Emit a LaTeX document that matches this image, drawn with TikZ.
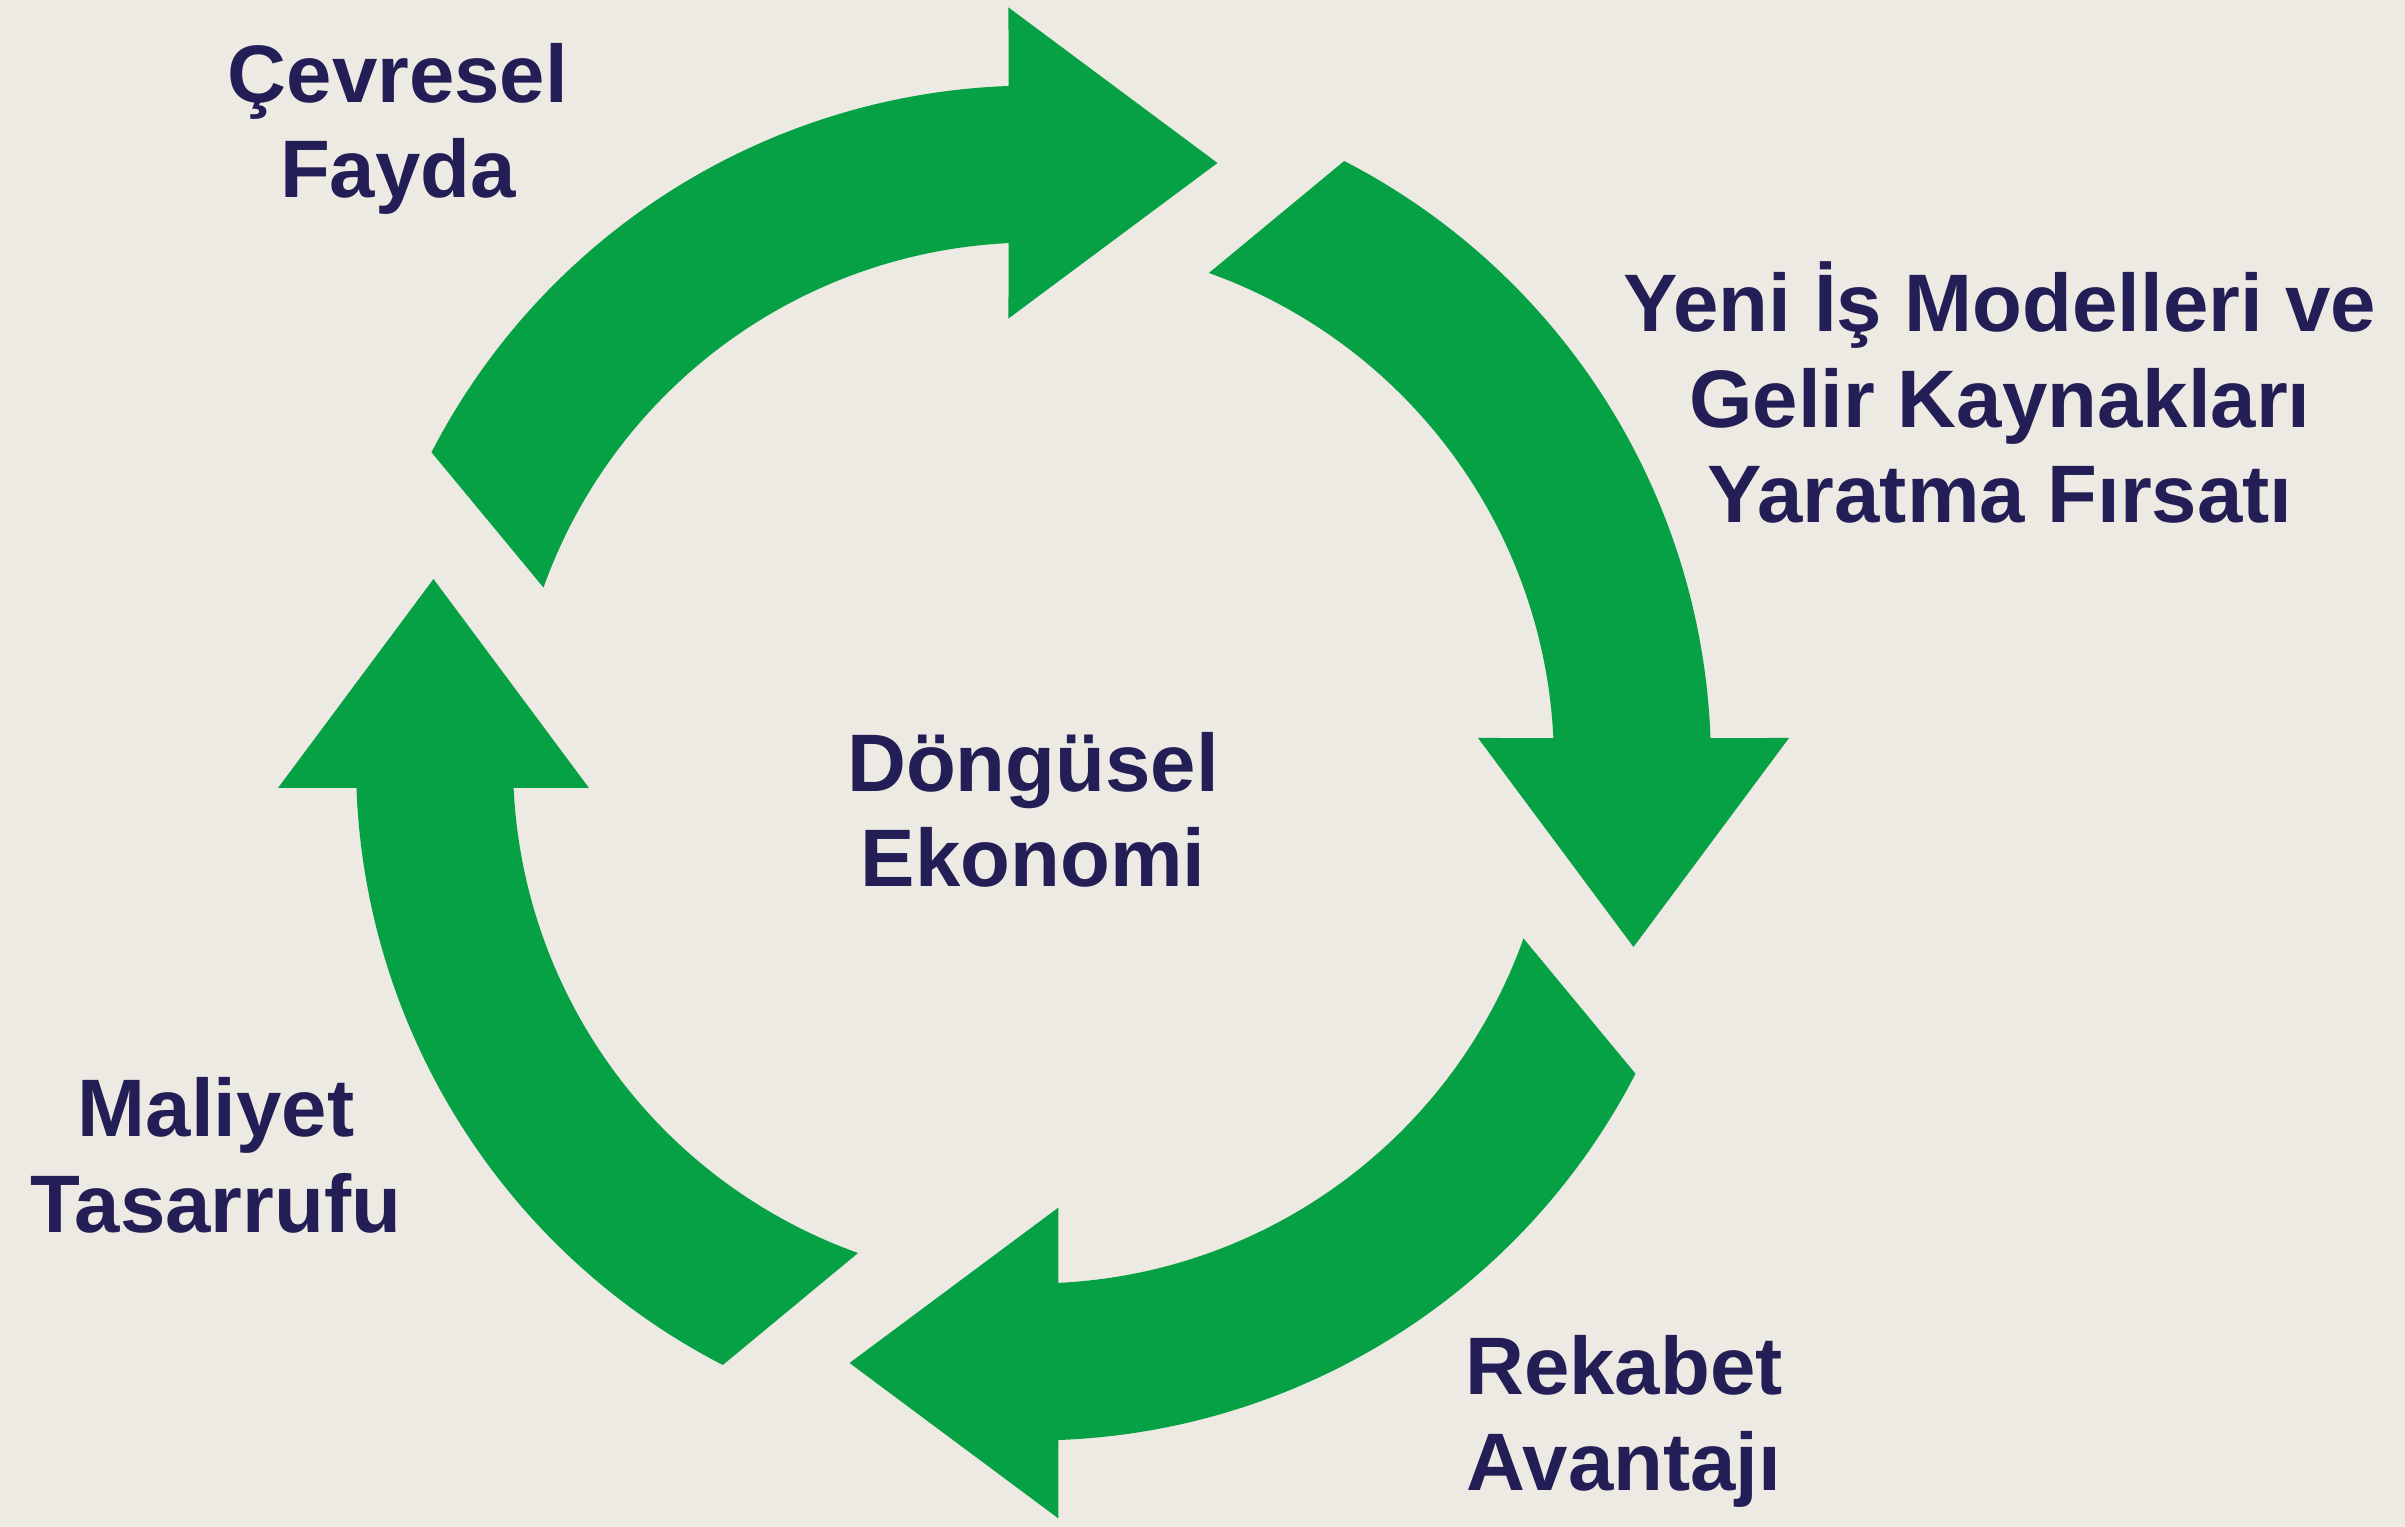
\documentclass[tikz,border=0pt]{standalone}
\usepackage{fontspec}
\setmainfont{Liberation Sans}
\definecolor{bgcol}{RGB}{237,234,227}
\definecolor{arrowgreen}{RGB}{7,161,69}
\definecolor{navy}{RGB}{35,31,86}
\begin{document}
\begin{tikzpicture}[x=0.01cm,y=0.01cm,
  cyclearrow/.style={fill=arrowgreen},
  label/.style={inner sep=0pt, align=center, anchor=base, text=navy,
    font=\fontsize{23.2}{27.2}\selectfont\bfseries}]
\fill[bgcol] (-1033.5,-764) rectangle (1371.5,763);
\useasboundingbox (-1033.5,-764) rectangle (1371.5,763);
% four curved arrows, clockwise
\foreach \r in {0,-90,-180,-270}{
  \begin{scope}[rotate=\r]
    \fill[cyclearrow] (152.7:677.5) arc[start angle=152.7, end angle=92.115, radius=677.5]
      -- (-25,755.5) -- (184,600) -- (-25,444.5)
      -- (92.753:520.5) arc[start angle=92.753, end angle=160.3, radius=520.5] -- cycle;
  \end{scope}
}
\node[label] (center) at (-0.5,-124) {Döngüsel\\Ekonomi};
\node[label] (cevre) at (-635.5,565) {Çevresel\\Fayda};
\node[label] (yeni) at (966.5,240) {Yeni İş Modelleri ve\\Gelir Kaynakları\\Yaratma Fırsatı};
\node[label] (rekabet) at (590.5,-727) {Rekabet\\Avantajı};
\node[label] (maliyet) at (-817.5,-469) {Maliyet\\Tasarrufu};
\end{tikzpicture}
\end{document}
